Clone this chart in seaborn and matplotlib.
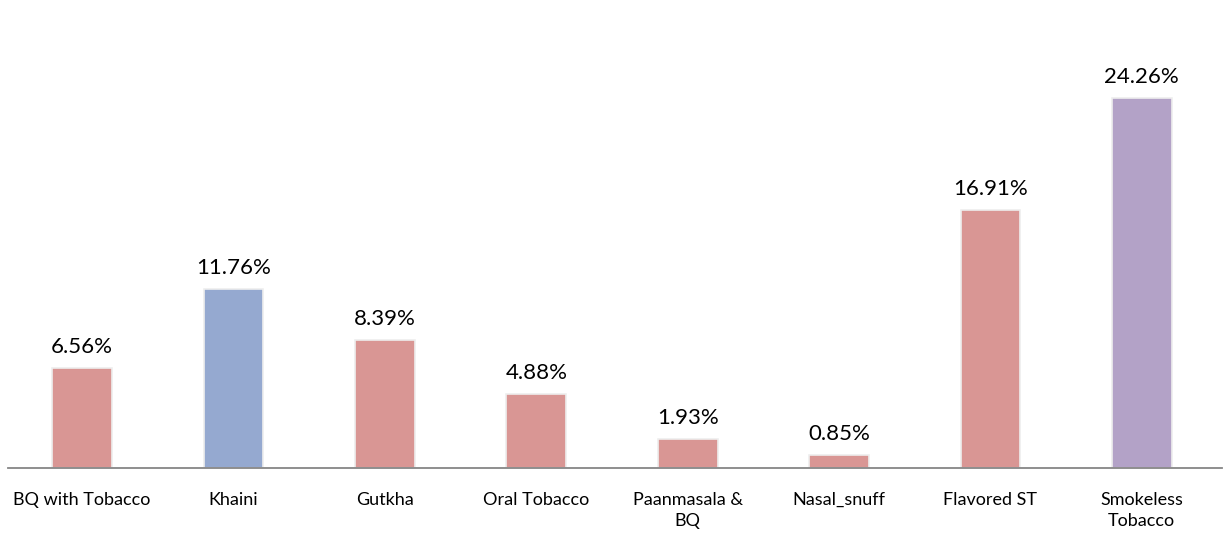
import matplotlib
matplotlib.use("Agg")
import matplotlib.pyplot as plt
import seaborn as sns
import pandas as pd

categories = ["BQ with Tobacco", "Khaini", "Gutkha", "Oral Tobacco",
              "Paanmasala &\nBQ", "Nasal_snuff", "Flavored ST", "Smokeless\nTobacco"]
values = [6.56, 11.76, 8.39, 4.88, 1.93, 0.85, 16.91, 24.26]
labels = ["6.56%", "11.76%", "8.39%", "4.88%", "1.93%", "0.85%", "16.91%", "24.26%"]
colors = ["#D99694", "#95A9D0", "#D99694", "#D99694", "#D99694", "#D99694", "#D99694", "#B3A2C7"]

sns.set_theme(style="white")
plt.rcParams["font.family"] = ["Lato", "DejaVu Sans"]

df = pd.DataFrame({"cat": categories, "val": values})
fig = plt.figure(figsize=(12.3, 5.55), dpi=100)
ax = fig.add_axes([0.0065, 0.1568, 0.987, 0.8242])
sns.barplot(data=df, x="cat", y="val", hue="cat", palette=colors, legend=False,
            width=0.395, ax=ax, edgecolor="#EEEEEE", linewidth=1.2, saturation=1)

for i, (v, lab) in enumerate(zip(values, labels)):
    ax.text(i, v + 0.7, lab, ha="center", va="bottom", fontsize=16, color="#000000")

ax.set_ylim(0, 30)
ax.set_xlim(-0.49, 7.53)
ax.set_xlabel("")
ax.set_ylabel("")
ax.set_yticks([])
for s in ["top", "left", "right"]:
    ax.spines[s].set_visible(False)
ax.spines["bottom"].set_color("#868686")
ax.spines["bottom"].set_linewidth(1.3)
ax.tick_params(axis="x", length=0, pad=17, labelsize=13, colors="#000000")
for t in ax.get_xticklabels():
    t.set_linespacing(1.45)
ax.set_facecolor("white")
fig.savefig("out.png", dpi=100, facecolor="white")
